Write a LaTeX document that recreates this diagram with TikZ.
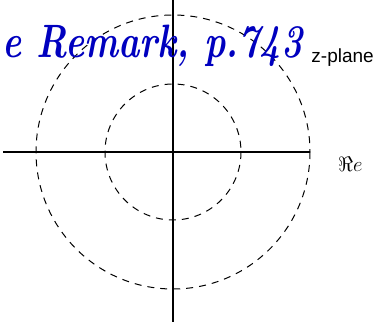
\documentclass[tikz,border=0pt]{standalone}
\usepackage{amssymb}
\usepackage{fontspec}
\newfontfamily\labelfont{Liberation Sans}
\usetikzlibrary{positioning}

\tikzset{
  axis/.style={line width=1.1pt, black},
  ring/.style={line width=1pt, dash pattern=on 7pt off 6pt},
  note/.style={text=blue!75!black, font=\fontsize{36}{36}\selectfont\itshape\bfseries, inner sep=0pt},
}

\begin{document}
\begin{tikzpicture}[x=1pt, y=-1pt]
    \useasboundingbox (0,0) rectangle (375,327);
    \coordinate (o) at (173,152);

    % Axes
    \draw[axis] (3,152) -- (310,152);
    \draw[axis] (173,0) -- (173,322);

    % Circles
    \draw[ring] (o) circle (137);
    \draw[ring] (o) circle (68);

    % Labels
    \node[anchor=base east, inner sep=0pt, font=\labelfont\fontsize{19}{19}\selectfont] (plane) at (374,62) {z-plane};
    \node[anchor=west, inner sep=0pt, font=\fontsize{22}{22}\selectfont] (re) at (338,164) {$\Re e$};

    % Handwritten remark
    \node[note, anchor=base west, yscale=1.3, transform shape] (remark) at (2,57) {e Remark, p.743};
\end{tikzpicture}
\end{document}
